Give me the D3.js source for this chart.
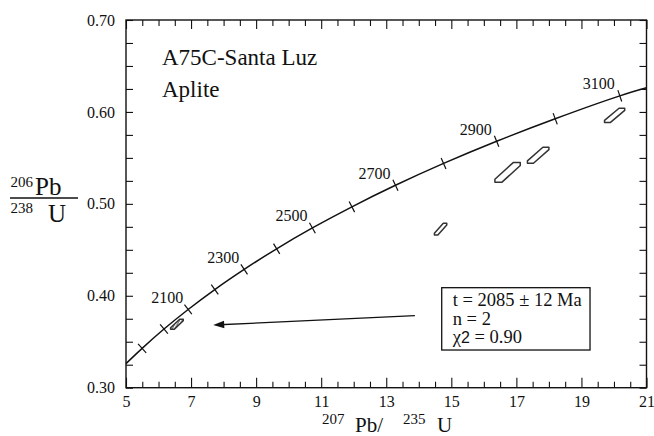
<!DOCTYPE html>
<html>
<head>
<meta charset="utf-8">
<script src="https://cdn.jsdelivr.net/npm/d3@7"></script>
<style>
  body { margin: 0; background: #fff; }
  svg text { fill: #111; }
</style>
</head>
<body>
<div id="container"></div>
<script>
/* CONSTANTS AND GLOBALS */
const width = 654,
      height = 436,
      margin = {top: 20, bottom: 48.3, left: 126, right: 7.5};

const serif = "'Liberation Serif', 'Times New Roman', Times, serif";

// concordia: 207Pb/235U vs 206Pb/238U, one point per 100 Ma
const curveAges = [null, 1900, 2000, 2100, 2200, 2300, 2400, 2500, 2600, 2700, 2800, 2900, 3000, 3100, null];
const curveX = [5.00, 5.496, 6.168, 6.910, 7.729, 8.633, 9.630, 10.730, 11.944, 13.283, 14.762, 16.393, 18.193, 20.179, 21.00];
const curveY = [0.3262, 0.3428, 0.3638, 0.3851, 0.4068, 0.4287, 0.4511, 0.4738, 0.4968, 0.5202, 0.5440, 0.5681, 0.5926, 0.6175, 0.6262];
const labelAges = [2100, 2300, 2500, 2700, 2900, 3100];

// zircon analyses (error box limits)
const spotX0 = [6.37, 14.48, 16.34, 17.34, 19.71];
const spotX1 = [6.76, 14.86, 17.12, 18.00, 20.33];
const spotY0 = [0.3635, 0.4661, 0.5236, 0.5442, 0.5884];
const spotY1 = [0.3744, 0.4788, 0.5449, 0.5616, 0.6040];
const spotUsed = [true, false, false, false, false];

// axis ticks
const xMajor = [5, 7, 9, 11, 13, 15, 17, 19, 21];
const xMinor = d3.range(5.5, 21, 0.5).filter(d => !xMajor.includes(d));
const yMajor = [0.30, 0.40, 0.50, 0.60, 0.70];
const yMinor = [0.325, 0.35, 0.375, 0.425, 0.45, 0.475, 0.525, 0.55, 0.575, 0.625, 0.65, 0.675];

const titleLines = ["A75C-Santa Luz", "Aplite"];
const statLines = ["t = 2085 ± 12 Ma", "n = 2", "χ2 = 0.90"];
const arrowFrom = [13.88, 0.3783],
      arrowTo = [7.68, 0.3682];
const statBox = {x0: 14.705, x1: 19.264, y0: 0.341, y1: 0.4088};

let svg, xScale, yScale;

init();

function init() {

  xScale = d3.scaleLinear()
             .domain([5, 21])
             .range([margin.left, width - margin.right]);

  yScale = d3.scaleLinear()
             .domain([0.30, 0.70])
             .range([height - margin.bottom, margin.top]);

  svg = d3.select("#container")
          .append("svg")
          .attr("width", width)
          .attr("height", height);

  const defs = svg.append("defs");
  defs.append("pattern")
      .attr("id", "hatch")
      .attr("patternUnits", "userSpaceOnUse")
      .attr("width", 2.6)
      .attr("height", 4)
      .attr("patternTransform", "rotate(27)")
      .append("line")
      .attr("x1", 1).attr("y1", 0)
      .attr("x2", 1).attr("y2", 4)
      .attr("stroke", "#333")
      .attr("stroke-width", 0.9);

  const plotBottom = height - margin.bottom,
        plotRight = width - margin.right;

  /* AXES */
  const axisStyle = g => {
    g.select(".domain").remove();
    g.attr("font-family", null).attr("font-size", null)
     .style("color", "#111");
    g.selectAll("line").attr("stroke-width", 1.1);
    g.selectAll("text").style("font-size", "16px");
  };

  // bottom
  svg.append("g")
     .attr("transform", `translate(0, ${plotBottom})`)
     .call(d3.axisBottom(xScale).tickValues(xMajor).tickSize(-10).tickPadding(7.6))
     .call(axisStyle);
  svg.append("g")
     .attr("transform", `translate(0, ${plotBottom})`)
     .call(d3.axisBottom(xScale).tickValues(xMinor).tickSize(-6).tickFormat(""))
     .call(axisStyle);
  // top
  svg.append("g")
     .attr("transform", `translate(0, ${margin.top})`)
     .call(d3.axisTop(xScale).tickValues(xMajor).tickSize(-9).tickFormat(""))
     .call(axisStyle);
  svg.append("g")
     .attr("transform", `translate(0, ${margin.top})`)
     .call(d3.axisTop(xScale).tickValues(xMinor).tickSize(-6).tickFormat(""))
     .call(axisStyle);
  // left
  svg.append("g")
     .attr("transform", `translate(${margin.left}, 0)`)
     .call(d3.axisLeft(yScale).tickValues(yMajor).tickSize(-7).tickPadding(11).tickFormat(d3.format(".2f")))
     .call(axisStyle);
  svg.append("g")
     .attr("transform", `translate(${margin.left}, 0)`)
     .call(d3.axisLeft(yScale).tickValues(yMinor).tickSize(-7).tickFormat(""))
     .call(axisStyle);
  // right
  svg.append("g")
     .attr("transform", `translate(${plotRight}, 0)`)
     .call(d3.axisRight(yScale).tickValues(yMajor.concat(yMinor)).tickSize(-7).tickFormat(""))
     .call(axisStyle);

  // frame
  svg.append("rect")
     .attr("x", margin.left)
     .attr("y", margin.top)
     .attr("width", plotRight - margin.left)
     .attr("height", plotBottom - margin.top)
     .attr("fill", "none")
     .attr("stroke", "#111")
     .attr("stroke-width", 1.4);

  /* AXIS TITLES */
  const ylab = svg.append("g");
  ylab.append("text").attr("x", 33).attr("y", 187).attr("text-anchor", "end")
      .style("font-size", "15px").text("206");
  ylab.append("text").attr("x", 35).attr("y", 195).style("font-size", "25px").text("Pb");
  ylab.append("line").attr("x1", 10).attr("x2", 78).attr("y1", 198).attr("y2", 198)
      .attr("stroke", "#111").attr("stroke-width", 1.3);
  ylab.append("text").attr("x", 33).attr("y", 213).attr("text-anchor", "end")
      .style("font-size", "15px").text("238");
  ylab.append("text").attr("x", 48).attr("y", 221.5).style("font-size", "25px").text("U");

  const xlab = svg.append("g");
  xlab.append("text").attr("x", 322).attr("y", 423.5).style("font-size", "15px").text("207");
  xlab.append("text").attr("x", 355).attr("y", 432).style("font-size", "21px").text("Pb/");
  xlab.append("text").attr("x", 403).attr("y", 423.5).style("font-size", "15px").text("235");
  xlab.append("text").attr("x", 437).attr("y", 432).style("font-size", "21px").text("U");

  // sample name
  svg.selectAll(".title")
     .data(titleLines)
     .join("text")
     .attr("class", "title")
     .attr("x", 162)
     .attr("y", (d, i) => 65 + i * 32)
     .style("font-size", "23px")
     .text(d => d);

  draw();

  // every text in Times-like serif
  svg.selectAll("text").style("font-family", serif);
}

function draw() {

  const pts = curveX.map((x, i) => [xScale(x), yScale(curveY[i])]);

  const lineGen = d3.line().curve(d3.curveCatmullRom.alpha(0.5));

  // concordia
  svg.append("path")
     .datum(pts)
     .attr("d", lineGen)
     .attr("fill", "none")
     .attr("stroke", "#111")
     .attr("stroke-width", 1.5);

  // age ticks, perpendicular to the curve
  const tickData = curveAges
     .map((age, i) => ({age, i}))
     .filter(d => d.age !== null)
     .map(d => {
       const p = pts[d.i], a = pts[d.i - 1], b = pts[d.i + 1];
       const dx = b[0] - a[0], dy = b[1] - a[1], len = Math.hypot(dx, dy);
       return {age: d.age, x: p[0], y: p[1], nx: -dy / len, ny: dx / len};
     });

  svg.selectAll(".age-tick")
     .data(tickData)
     .join("line")
     .attr("class", "age-tick")
     .attr("x1", d => d.x - d.nx * 6)
     .attr("y1", d => d.y - d.ny * 6)
     .attr("x2", d => d.x + d.nx * 6)
     .attr("y2", d => d.y + d.ny * 6)
     .attr("stroke", "#111")
     .attr("stroke-width", 1.2);

  svg.selectAll(".age-label")
     .data(tickData.filter(d => labelAges.includes(d.age)))
     .join("text")
     .attr("class", "age-label")
     .attr("x", d => d.x - 5)
     .attr("y", d => d.y - 6.5)
     .attr("text-anchor", "end")
     .style("font-size", "16px")
     .text(d => d.age);

  // analyses as error boxes
  const spots = spotX0.map((x0, i) => {
    const l = xScale(x0), r = xScale(spotX1[i]);
    const b = yScale(spotY0[i]), t = yScale(spotY1[i]);
    const cw = (r - l) * 0.28, ch = (b - t) * 0.15;
    return {used: spotUsed[i], poly: [[r - cw, t], [r, t], [r, t + ch], [l + cw, b], [l, b], [l, b - ch]]};
  });

  svg.selectAll(".spot")
     .data(spots)
     .join("path")
     .attr("class", "spot")
     .attr("d", d => "M" + d.poly.join("L") + "Z")
     .attr("fill", d => d.used ? "url(#hatch)" : "none")
     .attr("stroke", "#333")
     .attr("stroke-width", 1.5)
     .attr("stroke-linejoin", "round");

  // arrow from the result box
  const ax0 = xScale(arrowFrom[0]), ay0 = yScale(arrowFrom[1]),
        ax1 = xScale(arrowTo[0]), ay1 = yScale(arrowTo[1]);
  const ang = Math.atan2(ay1 - ay0, ax1 - ax0);
  svg.append("line")
     .attr("x1", ax0).attr("y1", ay0)
     .attr("x2", ax1 - Math.cos(ang) * 6).attr("y2", ay1 - Math.sin(ang) * 6)
     .attr("stroke", "#111")
     .attr("stroke-width", 1.3);
  const head = [[0, 0], [-11, -3.8], [-11, 3.8]].map(([u, v]) =>
      [ax1 + u * Math.cos(ang) - v * Math.sin(ang), ay1 + u * Math.sin(ang) + v * Math.cos(ang)]);
  svg.append("path")
     .attr("d", "M" + head.join("L") + "Z")
     .attr("fill", "#111");

  // result box
  const bx = xScale(statBox.x0), by = yScale(statBox.y1);
  svg.append("rect")
     .attr("x", bx)
     .attr("y", by)
     .attr("width", xScale(statBox.x1) - bx)
     .attr("height", yScale(statBox.y0) - by)
     .attr("fill", "#fff")
     .attr("stroke", "#111")
     .attr("stroke-width", 1.3);

  const stats = svg.selectAll(".stat")
     .data(statLines)
     .join("text")
     .attr("class", "stat")
     .attr("x", bx + 11)
     .attr("y", (d, i) => by + 18.5 + i * 18.6)
     .style("font-size", "18.5px");

  stats.each(function(d) {
    const t = d3.select(this);
    if (d.startsWith("χ2")) {
      t.append("tspan").text("χ");
      t.append("tspan").style("font-family", "'Liberation Sans', Arial, sans-serif")
       .style("font-size", "16px").text("2");
      t.append("tspan").text(d.slice(2));
    } else {
      t.text(d);
    }
  });
}
</script>
</body>
</html>
